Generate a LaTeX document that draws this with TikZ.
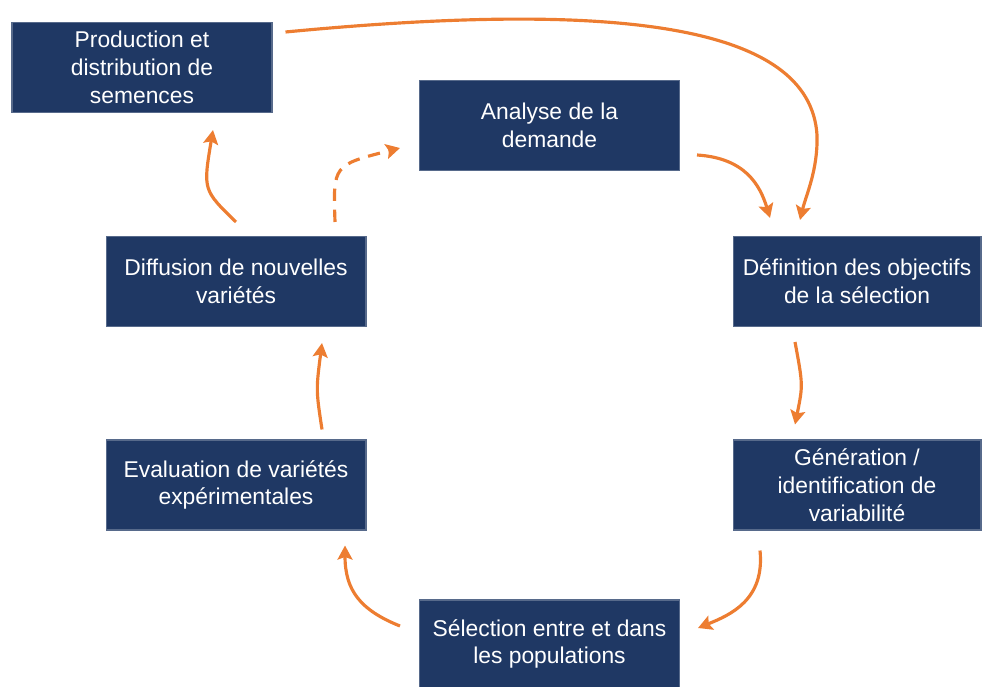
\documentclass[tikz,border=0pt]{standalone}
\usepackage{fontspec}
\setmainfont{Liberation Sans}
\usetikzlibrary{arrows.meta}
\definecolor{navy}{HTML}{1F3864}
\definecolor{flowcol}{HTML}{ED7D31}
\tikzstyle{stage} = [rectangle, fill=navy, draw=navy!75!white, line width=0.6pt, text=white, align=center, font=\fontsize{13}{15.8}\selectfont, minimum width=5.2cm, minimum height=1.8cm, inner sep=2pt]
\tikzstyle{flow} = [draw=flowcol, line width=1.8pt, -{Stealth[length=8pt,width=8.5pt,inset=1.5pt]}]

\begin{document}
\begin{tikzpicture}[x=0.02cm, y=-0.02cm]
            \useasboundingbox (0,0) rectangle (982,686);

            \node (prod) at(142,67.5) [stage] {Production et\\distribution de\\semences};
            \node (ana) at(549.5,125.5) [stage] {Analyse de la\\demande};
            \node (def) at(857,281.5) [stage, minimum width=4.96cm] {Définition des objectifs\\de la sélection};
            \node (gen) at(857,485) [stage, minimum width=4.96cm] {Génération /\\identification de\\variabilité};
            \node (sel) at(549.5,644) [stage, minimum height=1.76cm] {Sélection entre et dans\\les populations};
            \node (eval) at(236,485) [stage] {Evaluation de variétés\\expérimentales};
            \node (diff) at(236,281.5) [stage] {Diffusion de nouvelles\\variétés};

            % cycle
            \draw[flow] ([shift={(13,-35.5)}]prod.east) .. controls (620,0) and (810,25) .. (817,135) .. controls (818,170) and (806,195) .. ([shift={(-57,-16)}]def.north);
            \draw[flow] ([shift={(17,29.5)}]ana.east) .. controls (745,158) and (760,185) .. ([shift={(-87,-18)}]def.north);
            \draw[flow] ([shift={(-62,15)}]def.south) .. controls (803,385) .. ([shift={(-62,-15)}]gen.north);
            \draw[flow] ([shift={(-97,20)}]gen.south) .. controls (765,600) and (730,615) .. ([shift={(18,-16)}]sel.east);
            \draw[flow] ([shift={(-19,-18)}]sel.west) .. controls (360,610) and (345,590) .. ([shift={(109,15)}]eval.south);
            \draw[flow] ([shift={(86,-10)}]eval.north) .. controls (316,390) .. ([shift={(86,16)}]diff.south);
            \draw[flow] ([shift={(0,-14)}]diff.north) .. controls (203,190) .. ([shift={(71,17)}]prod.south);
            \draw[flow, dash pattern=on 7pt off 5pt] ([shift={(99,-14)}]diff.north) .. controls (333,165) .. ([shift={(-19,22.5)}]ana.west);

\end{tikzpicture}
\end{document}
